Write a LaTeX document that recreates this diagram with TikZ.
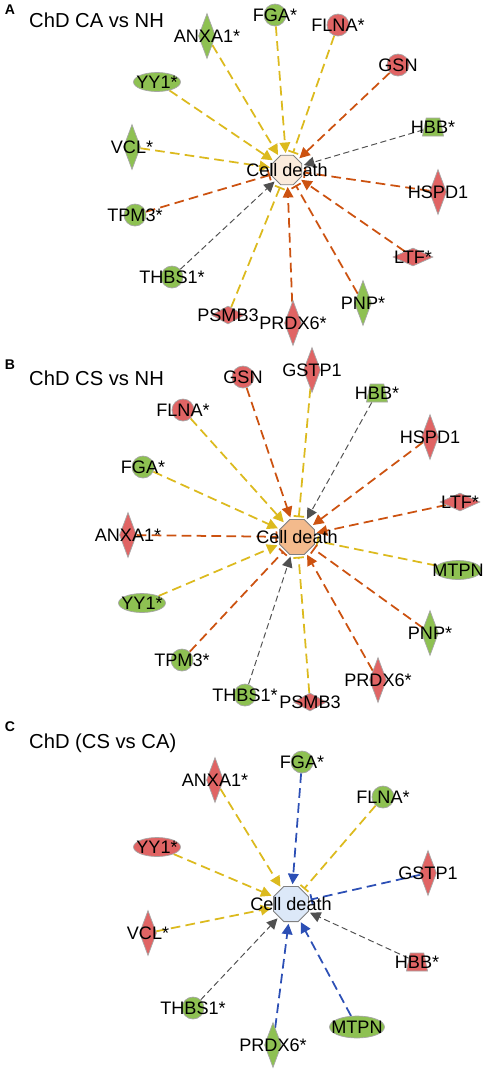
\documentclass[tikz,border=0pt]{standalone}
\usepackage{fontspec}
\setmainfont{Liberation Sans}
\usepackage{tikz}
\usetikzlibrary{shapes.geometric, arrows.meta, backgrounds}
\definecolor{upred}{HTML}{E06464}
\definecolor{downgreen}{HTML}{8EC152}
\definecolor{linkyel}{HTML}{DCBA1E}
\definecolor{linkora}{HTML}{CC5210}
\definecolor{linkgry}{HTML}{505050}
\definecolor{linkblu}{HTML}{2C4FB5}
\definecolor{funA}{HTML}{FBEBDC}
\definecolor{funB}{HTML}{F3BA8C}
\definecolor{funC}{HTML}{DCE8F8}
\tikzstyle{gene} = [draw=gray!70, line width=0.4pt, inner sep=0pt]
\tikzstyle{up} = [gene, fill=upred]
\tikzstyle{down} = [gene, fill=downgreen]
\tikzstyle{other} = [circle, minimum size=0.44cm]
\tikzstyle{enzyme} = [diamond, minimum width=0.34cm, minimum height=0.9cm]
\tikzstyle{peptidase} = [diamond, minimum width=0.8cm, minimum height=0.36cm]
\tikzstyle{transreg} = [ellipse, minimum width=0.94cm, minimum height=0.38cm]
\tikzstyle{transporter} = [trapezium, trapezium stretches=true, trapezium left angle=75, trapezium right angle=75, inner sep=1pt, minimum width=0.42cm, minimum height=0.36cm]
\tikzstyle{fun} = [regular polygon, regular polygon sides=8, draw=gray, line width=0.5pt, inner sep=0pt, minimum size=0.72cm]
\tikzstyle{title} = [anchor=west, font=\fontsize{11.5}{13}\selectfont]
\tikzstyle{panel} = [font=\fontsize{8}{9}\selectfont\bfseries]
\tikzstyle{link} = [line width=1pt, dash pattern=on 5.5pt off 3pt, shorten >=1pt]
\tikzstyle{thin} = [line width=0.55pt, dash pattern=on 3.5pt off 2pt, shorten >=1pt]
\tikzstyle{act} = [-{Triangle[length=6pt,width=6pt]}]
\tikzstyle{inh} = [-{Bar[width=6pt]}]
\tikzstyle{yel} = [link, linkyel]
\tikzstyle{ora} = [link, linkora]
\tikzstyle{blu} = [link, linkblu]
\tikzstyle{gry} = [thin, linkgry]

\begin{document}
\begin{tikzpicture}[x=0.02cm, y=-0.02cm, font=\fontsize{10.3}{12}\selectfont]
\useasboundingbox (0,0) rectangle (485,1073);

% A: ChD CA vs NH
\node [panel] (pa) at (10,10) {A};
\node [title] (ta) at (23,20) {ChD CA vs NH};
\node [fun, fill=funA, minimum size=0.64cm, label=center:Cell death] (cdA) at (287,170) {};
\node [down, enzyme, label=center:ANXA1*] (anxaA) at (207,36) {};
\node [down, other, label=center:FGA*] (fgaA) at (275,15) {};
\node [up, other, label=center:FLNA*] (flnaA) at (338,25) {};
\node [up, other, label=center:GSN] (gsnA) at (398,65) {};
\node [down, transreg, label=center:YY1*] (yyA) at (157,82) {};
\node [down, transporter, label=center:HBB*] (hbbA) at (433,127) {};
\node [down, enzyme, label=center:VCL*] (vclA) at (132,147) {};
\node [up, enzyme, label=center:HSPD1] (hspdA) at (438,192) {};
\node [down, other, label=center:TPM3*] (tpmA) at (135,215) {};
\node [up, peptidase, label=center:LTF*] (ltfA) at (413,257) {};
\node [down, other, label=center:THBS1*] (thbsA) at (172,277) {};
\node [up, peptidase, minimum width=0.66cm, label=center:PSMB3] (psmbA) at (228,315) {};
\node [up, enzyme, label=center:PRDX6*] (prdxA) at (293,323) {};
\node [down, enzyme, label=center:PNP*] (pnpA) at (363,303) {};

% B: ChD CS vs NH
\node [panel] (pb) at (10,365) {B};
\node [title] (tb) at (23,378) {ChD CS vs NH};
\node [fun, fill=funB, minimum size=0.76cm, label=center:Cell death] (cdB) at (297,537) {};
\node [up, other, label=center:GSN] (gsnB) at (243,377) {};
\node [up, enzyme, label=center:GSTP1] (gstpB) at (312,370) {};
\node [down, transporter, label=center:HBB*] (hbbB) at (377,393) {};
\node [up, other, label=center:FLNA*] (flnaB) at (183,410) {};
\node [up, enzyme, label=center:HSPD1] (hspdB) at (430,437) {};
\node [down, other, label=center:FGA*] (fgaB) at (143,467) {};
\node [up, peptidase, label=center:LTF*] (ltfB) at (460,502) {};
\node [up, enzyme, label=center:ANXA1*] (anxaB) at (128,535) {};
\node [down, transreg, label=center:MTPN] (mtpnB) at (458,570) {};
\node [down, transreg, label=center:YY1*] (yyB) at (142,603) {};
\node [down, enzyme, label=center:PNP*] (pnpB) at (430,633) {};
\node [down, other, label=center:TPM3*] (tpmB) at (182,660) {};
\node [up, enzyme, label=center:PRDX6*] (prdxB) at (378,680) {};
\node [down, other, label=center:THBS1*] (thbsB) at (245,695) {};
\node [up, peptidase, minimum width=0.66cm, label=center:PSMB3] (psmbB) at (310,702) {};

% C: ChD (CS vs CA)
\node [panel] (pc) at (10,727) {C};
\node [title] (tc) at (23,743) {ChD (CS vs CA)};
\node [fun, fill=funC, minimum size=0.76cm, label=center:Cell death] (cdC) at (291,904) {};
\node [down, other, label=center:FGA*] (fgaC) at (302,762) {};
\node [up, enzyme, label=center:ANXA1*] (anxaC) at (215,780) {};
\node [down, other, label=center:FLNA*] (flnaC) at (383,797) {};
\node [up, transreg, label=center:YY1*] (yyC) at (157,847) {};
\node [up, enzyme, label=center:GSTP1] (gstpC) at (428,873) {};
\node [up, enzyme, label=center:VCL*] (vclC) at (148,933) {};
\node [up, transporter, label=center:HBB*] (hbbC) at (417,962) {};
\node [down, other, label=center:THBS1*] (thbsC) at (193,1008) {};
\node [down, transreg, minimum width=1.1cm, minimum height=0.44cm, label=center:MTPN] (mtpnC) at (357,1027) {};
\node [down, enzyme, label=center:PRDX6*] (prdxC) at (273,1045) {};

\begin{scope}[on background layer]
\draw [yel, act] (anxaA) -- (cdA);
\draw [yel, act] (fgaA) -- (cdA);
\draw [yel, inh] (flnaA) -- (cdA);
\draw [ora, act] (gsnA) -- (cdA);
\draw [yel, act] (yyA) -- (cdA);
\draw [gry, act] (hbbA) -- (cdA);
\draw [yel, act] (vclA) -- (cdA);
\draw [ora, inh] (hspdA) -- (cdA);
\draw [ora, inh] (tpmA) -- (cdA);
\draw [ora, act] (ltfA) -- (cdA);
\draw [gry, act] (thbsA) -- (cdA);
\draw [yel, inh] (psmbA) -- (cdA);
\draw [ora, act] (prdxA) -- (cdA);
\draw [ora, inh] (pnpA) -- (cdA);

\draw [ora, act] (gsnB) -- (cdB);
\draw [yel, inh] (gstpB) -- (cdB);
\draw [gry, act] (hbbB) -- (cdB);
\draw [yel, act] (flnaB) -- (cdB);
\draw [ora, act] (hspdB) -- (cdB);
\draw [yel, act] (fgaB) -- (cdB);
\draw [ora, act] (ltfB) -- (cdB);
\draw [ora, inh] (anxaB) -- (cdB);
\draw [yel, inh] (mtpnB) -- (cdB);
\draw [yel, act] (yyB) -- (cdB);
\draw [ora, inh] (pnpB) -- (cdB);
\draw [ora, inh] (tpmB) -- (cdB);
\draw [ora, act] (prdxB) -- (cdB);
\draw [gry, act] (thbsB) -- (cdB);
\draw [yel, inh] (psmbB) -- (cdB);

\draw [blu, act] (fgaC) -- (cdC);
\draw [yel, act] (anxaC) -- (cdC);
\draw [yel, inh] (flnaC) -- (cdC);
\draw [yel, act] (yyC) -- (cdC);
\draw [blu, inh] (gstpC) -- (cdC);
\draw [yel, act] (vclC) -- (cdC);
\draw [gry, act] (hbbC) -- (cdC);
\draw [gry, act] (thbsC) -- (cdC);
\draw [blu, act] (mtpnC) -- (cdC);
\draw [blu, act] (prdxC) -- (cdC);
\end{scope}
\end{tikzpicture}
\end{document}
